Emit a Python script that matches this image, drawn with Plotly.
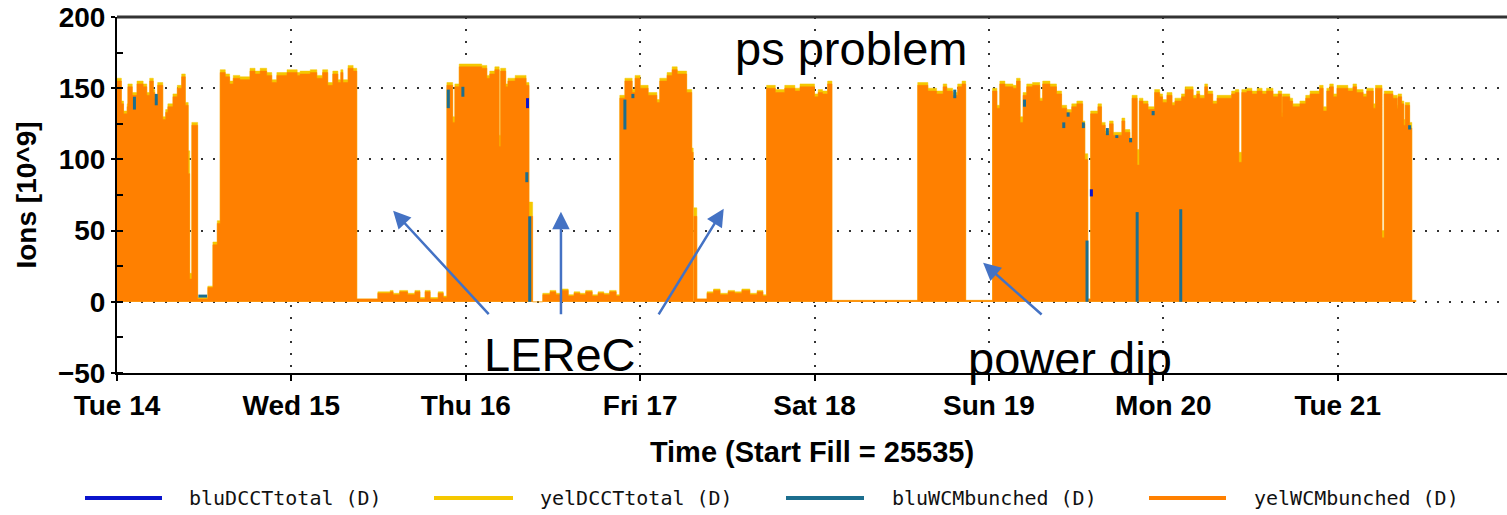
import plotly.graph_objects as go
from datetime import datetime, timedelta

T0 = datetime(2020, 7, 14)  # Tue 14, 00:00

# ---- data (hours after Tue 14 00:00, step changes) ----
yel_time_h = [
    0.0, 0.6, 0.75, 0.9, 1.4, 1.5, 2.1, 2.75, 3.6, 4.1, 4.5, 5.0, 5.2, 5.6, 6.3, 6.7, 7.0, 7.7, 8.3, 8.9,
    9.4, 9.8, 10.0, 10.3, 11.1, 12.5, 13.2, 13.8,
    14.2, 14.9, 15.5, 16.0, 16.9, 18.3, 19.0, 19.7, 20.6, 21.3, 22.0, 23.4, 24.8, 25.2, 26.6, 27.5, 28.3,
    29.0, 29.7, 30.4, 30.8, 31.1, 31.8, 32.5,
    33.0, 35.9, 37.6, 38.0, 38.9, 40.0, 41.0, 41.7, 42.4, 43.1, 44.2, 44.9,
    45.4, 46.2, 46.5, 47.1, 50.2, 50.9, 51.3, 52.0, 52.6, 52.8, 53.5, 53.8, 54.8, 56.3, 56.7, 57.2,
    58.6, 59.6, 60.4, 61.2, 62.1, 62.9, 63.7, 64.5, 65.4, 66.2, 67.0, 67.8, 68.7,
    69.2, 69.9, 70.9, 71.3, 72.0, 73.1, 74.3, 74.7, 75.7, 76.4, 77.1, 78.4, 79.1, 79.3, 79.4, 79.8,
    81.2, 82.1, 83.0, 84.1, 85.0, 86.0, 87.1, 88.1, 88.9,
    89.4, 90.6, 91.9, 93.3, 94.0, 96.0, 96.5, 97.1, 97.8, 98.4,
    110.2, 111.6, 112.8, 113.7, 114.2, 115.0, 115.7, 116.3, 116.8,
    120.5, 121.1, 121.5, 122.2, 123.3, 123.8, 124.3, 124.7, 125.2, 126.0,
    127.0, 127.4, 128.4, 129.3, 130.0, 130.7, 131.4, 132.1, 132.9, 133.2,
    133.6, 134.0, 135.0, 135.5, 136.0, 136.6, 137.1, 138.3, 138.7, 139.4,
    139.7, 140.4, 140.7, 141.2, 141.9, 142.8, 143.5, 143.9, 144.5, 145.2,
    145.6, 146.5, 147.0, 148.1, 148.6, 149.0, 149.7, 150.1, 150.8, 151.4,
    153.4, 153.9, 154.4, 154.8, 155.5, 156.2, 156.9, 157.6, 158.2, 159.1,
    159.8, 160.3, 160.4, 161.4, 161.8, 162.8, 163.6, 164.2, 165.5, 166.0,
    166.5, 166.9, 167.4, 167.9, 169.4, 170.1, 170.6, 171.5, 172.0, 172.9,
    173.2, 174.1, 174.4, 175.6, 176.2, 176.3, 176.8, 177.1, 177.3, 177.9,
    178.2, 178.8,
]

yel_wcm = [
    155, 139, 139, 132, 137, 151, 145, 153, 151, 145, 155, 147, 143, 152, 128, 133, 137, 144, 150, 158,
    138, 90, 16, 124, 2, 10, 40, 55,
    161, 158, 153, 157, 156, 162, 160, 162, 159, 154, 159, 161, 159, 160, 161, 157, 161,
    152, 160, 154, 161, 154, 164, 162,
    2, 6, 7, 5, 7, 5, 7, 2, 7, 2, 6, 3,
    152, 126, 151, 165, 164, 157, 160, 163, 109, 162, 151, 155, 157, 152, 60, 0,
    5, 7, 5, 8, 4, 6, 5, 7, 4, 6, 5, 7, 4,
    143, 155, 147, 157, 150, 145, 140, 155, 159, 163, 160, 147, 105, 0, 60, 2,
    6, 8, 5, 7, 6, 8, 5, 7, 4,
    150, 147, 150, 148, 151, 144, 147, 146, 153, 1,
    152, 148, 146, 151, 148, 145, 151, 153, 1,
    148, 136, 153, 151, 150, 155, 126, 145, 151, 152,
    141, 153, 151, 146, 136, 133, 137, 139, 125, 100,
    2, 132, 137, 124, 118, 125, 117, 127, 119, 113,
    143, 96, 141, 139, 135, 147, 144, 140, 145, 138,
    141, 144, 149, 143, 146, 143, 151, 146, 139, 143,
    146, 147, 98, 147, 148, 146, 148, 146, 148, 144,
    146, 130, 144, 141, 137, 139, 143, 146, 150, 134,
    148, 151, 144, 150, 148, 151, 147, 144, 148, 136,
    150, 45, 146, 143, 136, 144, 139, 124, 138, 122,
    1, 1,
]

yel_dcct = [
    157, 141, 141, 134, 139, 153, 147, 155, 153, 147, 157, 149, 145, 154, 130, 135, 139, 146, 152, 160,
    140, 106, 20, 126, 3, 11, 42, 57,
    163, 160, 155, 159, 158, 164, 162, 164, 161, 156, 161, 163, 161, 162, 163, 159, 163,
    154, 162, 156, 163, 156, 166, 164,
    2, 7, 8, 6, 8, 6, 8, 3, 8, 3, 7, 4,
    154, 130, 153, 167, 166, 159, 162, 165, 117, 164, 153, 157, 159, 154, 70, 0,
    6, 8, 6, 9, 5, 7, 6, 8, 5, 7, 6, 8, 5,
    145, 157, 149, 159, 152, 147, 142, 157, 161, 165, 162, 149, 108, 0, 66, 2,
    7, 9, 6, 8, 7, 9, 6, 8, 5,
    152, 149, 152, 150, 153, 146, 149, 148, 155, 1,
    154, 150, 148, 153, 150, 147, 153, 155, 1,
    150, 138, 155, 153, 152, 157, 130, 147, 153, 154,
    143, 155, 153, 148, 138, 135, 139, 141, 127, 104,
    2, 134, 139, 126, 120, 127, 119, 129, 121, 115,
    145, 107, 143, 141, 137, 149, 146, 142, 147, 140,
    143, 146, 151, 145, 148, 145, 153, 148, 141, 145,
    148, 149, 105, 149, 150, 148, 150, 148, 150, 146,
    148, 133, 146, 143, 139, 141, 145, 148, 152, 137,
    150, 153, 146, 152, 150, 153, 149, 146, 150, 139,
    152, 50, 148, 145, 138, 146, 141, 128, 140, 126,
    1, 1,
]

# blue-ring WCM: only the places where it shows through (None = gap)
blu_wcm_time_h = [2.4, 2.4, None, 5.4, 5.4, None, 11.2, 12.4, None, 45.6, 45.6, None,
                  47.6, 47.6, None, 56.4, 56.4, None, 56.8, 56.8, None, 69.9, 69.9, None,
                  71.0, 71.0, None, 115.3, 115.3, None, 124.9, 124.9, None, 130.3, 130.3, None,
                  130.9, 130.9, None, 133.0, 133.0, None, 133.5, 133.5, None, 136.3, 136.3, None,
                  137.6, 137.6, None, 139.5, 139.5, None, 140.4, 140.4, None, 142.6, 142.6, None,
                  146.4, 146.4, None, 177.9, 177.9]
blu_wcm = [135, 144, None, 138, 146, None, 4, 4, None, 136, 149, None,
           144, 151, None, 84, 91, None, 0, 60, None, 121, 142, None,
           143, 146, None, 143, 149, None, 137, 142, None, 122, 126, None,
           130, 133, None, 122, 126, None, 0, 43, None, 117, 122, None,
           115, 117, None, 112, 115, None, 0, 63, None, 131, 134, None,
           0, 65, None, 121, 124]

blu_dcct_time_h = [56.5, 56.5, None, 134.1, 134.1]
blu_dcct = [136, 143, None, 74, 79]

day_ticks = list(range(8))          # Tue 14 ... Tue 21
legend_names = ["bluDCCTtotal (D)", "yelDCCTtotal (D)", "bluWCMbunched (D)", "yelWCMbunched (D)"]

# ---- styling ----
C_BLU = "#0A14CC"
C_YEL = "#F5C800"
C_TEAL = "#1C6E8E"
C_ORA = "#FF8000"
legend_colors = [C_BLU, C_YEL, C_TEAL, C_ORA]
BOLD = dict(family="Liberation Sans, Arial, sans-serif", size=28, color="black", weight="bold")


def to_dt(hours):
    return [T0 + timedelta(hours=h) if h is not None else None for h in hours]


fig = go.Figure()
fig.add_trace(go.Scatter(x=to_dt(yel_time_h), y=yel_dcct, mode="lines", line_shape="hv",
                         line=dict(color=C_YEL, width=0.5), fill="tozeroy", fillcolor=C_YEL,
                         name=legend_names[1], hoverinfo="skip"))
fig.add_trace(go.Scatter(x=to_dt(yel_time_h), y=yel_wcm, mode="lines", line_shape="hv",
                         line=dict(color=C_ORA, width=0.5), fill="tozeroy", fillcolor=C_ORA,
                         name=legend_names[3], hoverinfo="skip"))
fig.add_trace(go.Scatter(x=to_dt(blu_wcm_time_h), y=blu_wcm, mode="lines",
                         line=dict(color=C_TEAL, width=3), name=legend_names[2], hoverinfo="skip"))
fig.add_trace(go.Scatter(x=to_dt(blu_dcct_time_h), y=blu_dcct, mode="lines",
                         line=dict(color=C_BLU, width=3), name=legend_names[0], hoverinfo="skip"))

x_end = T0 + timedelta(hours=191.3)
GRID = dict(showgrid=True, gridcolor="#333333", griddash="2px,10px", gridwidth=1.5)

fig.update_layout(
    width=1507, height=515,
    margin=dict(l=117, r=0, t=17, b=142),
    plot_bgcolor="white", paper_bgcolor="white",
    showlegend=False,
    xaxis=dict(type="date", range=[T0, x_end], automargin=False,
               tickvals=[T0 + timedelta(days=d) for d in day_ticks], tickformat="%a %d",
               tickfont=BOLD, showline=True, linecolor="black", linewidth=2,
               ticks="outside", ticklen=6, tickwidth=2, tickcolor="black",
               zeroline=False, title=dict(text="Time (Start Fill = 25535)", font=dict(BOLD, size=29),
                                          standoff=22),
               **GRID),
    yaxis=dict(range=[-50, 200], tick0=0, dtick=50, tickfont=BOLD, automargin=False,
               ticklabeloverflow="allow",
               showline=True, linecolor="black", linewidth=2,
               ticks="outside", ticklen=4, tickwidth=2, tickcolor="black",
               minor=dict(dtick=25, ticks="inside", ticklen=6, tickwidth=1.5, tickcolor="black",
                          showgrid=False),
               zeroline=False, title=dict(text="Ions [10^9]", font=dict(BOLD, size=28), standoff=13),
               **GRID),
)

# top frame line
fig.add_shape(type="line", xref="paper", yref="paper", x0=0, x1=1, y0=1, y1=1,
              line=dict(color="#333333", width=3))

# free-text notes
NOTE = dict(family="Liberation Sans, Arial, sans-serif", size=47, color="black")
fig.add_annotation(x=T0 + timedelta(hours=101.1), y=177.7, text="ps problem", showarrow=False, font=NOTE)
fig.add_annotation(x=T0 + timedelta(hours=61.0), y=-37.2, text="LEReC", showarrow=False, font=NOTE)
fig.add_annotation(x=T0 + timedelta(hours=131.1), y=-40.0, text="power dip", showarrow=False, font=NOTE)

# arrows (head in data coords, tail offset in px)
arrows = [(38.0, 64.0, 97, 105), (61.1, 63.2, 0, 104), (83.5, 65.3, -66, 107), (119.2, 27.4, 60, 53)]
for h, v, ax, ay in arrows:
    fig.add_annotation(x=T0 + timedelta(hours=h), y=v, ax=ax, ay=ay, text="", showarrow=True,
                       arrowhead=2, arrowsize=1.4, arrowwidth=2.5, arrowcolor="#4472C4", standoff=0)

# legend row drawn below the plot (positions in px of the reference, converted to paper units)
leg_line_x = [(85, 162), (434, 513), (786, 864), (1149, 1226)]
leg_text_x = [187, 538, 890, 1252]
W = 1390.0
ly = (373 - 498) / 356.0
for (a, b), tx, name, col in zip(leg_line_x, leg_text_x, legend_names, legend_colors):
    fig.add_shape(type="line", xref="paper", yref="paper", x0=(a - 117) / W, x1=(b - 117) / W,
                  y0=ly, y1=ly, line=dict(color=col, width=4))
    fig.add_annotation(xref="paper", yref="paper", x=(tx - 117) / W, y=ly, text=name, showarrow=False,
                       xanchor="left", yanchor="middle",
                       font=dict(family="DejaVu Sans Mono, Liberation Mono, monospace", size=20, color="#111111"))

# remove the browser's default 8px page margin so the figure fills the window exactly
fig.write_html("out.html", config={"displayModeBar": False},
               post_script="document.body.style.margin='0';document.body.style.overflow='hidden';")
